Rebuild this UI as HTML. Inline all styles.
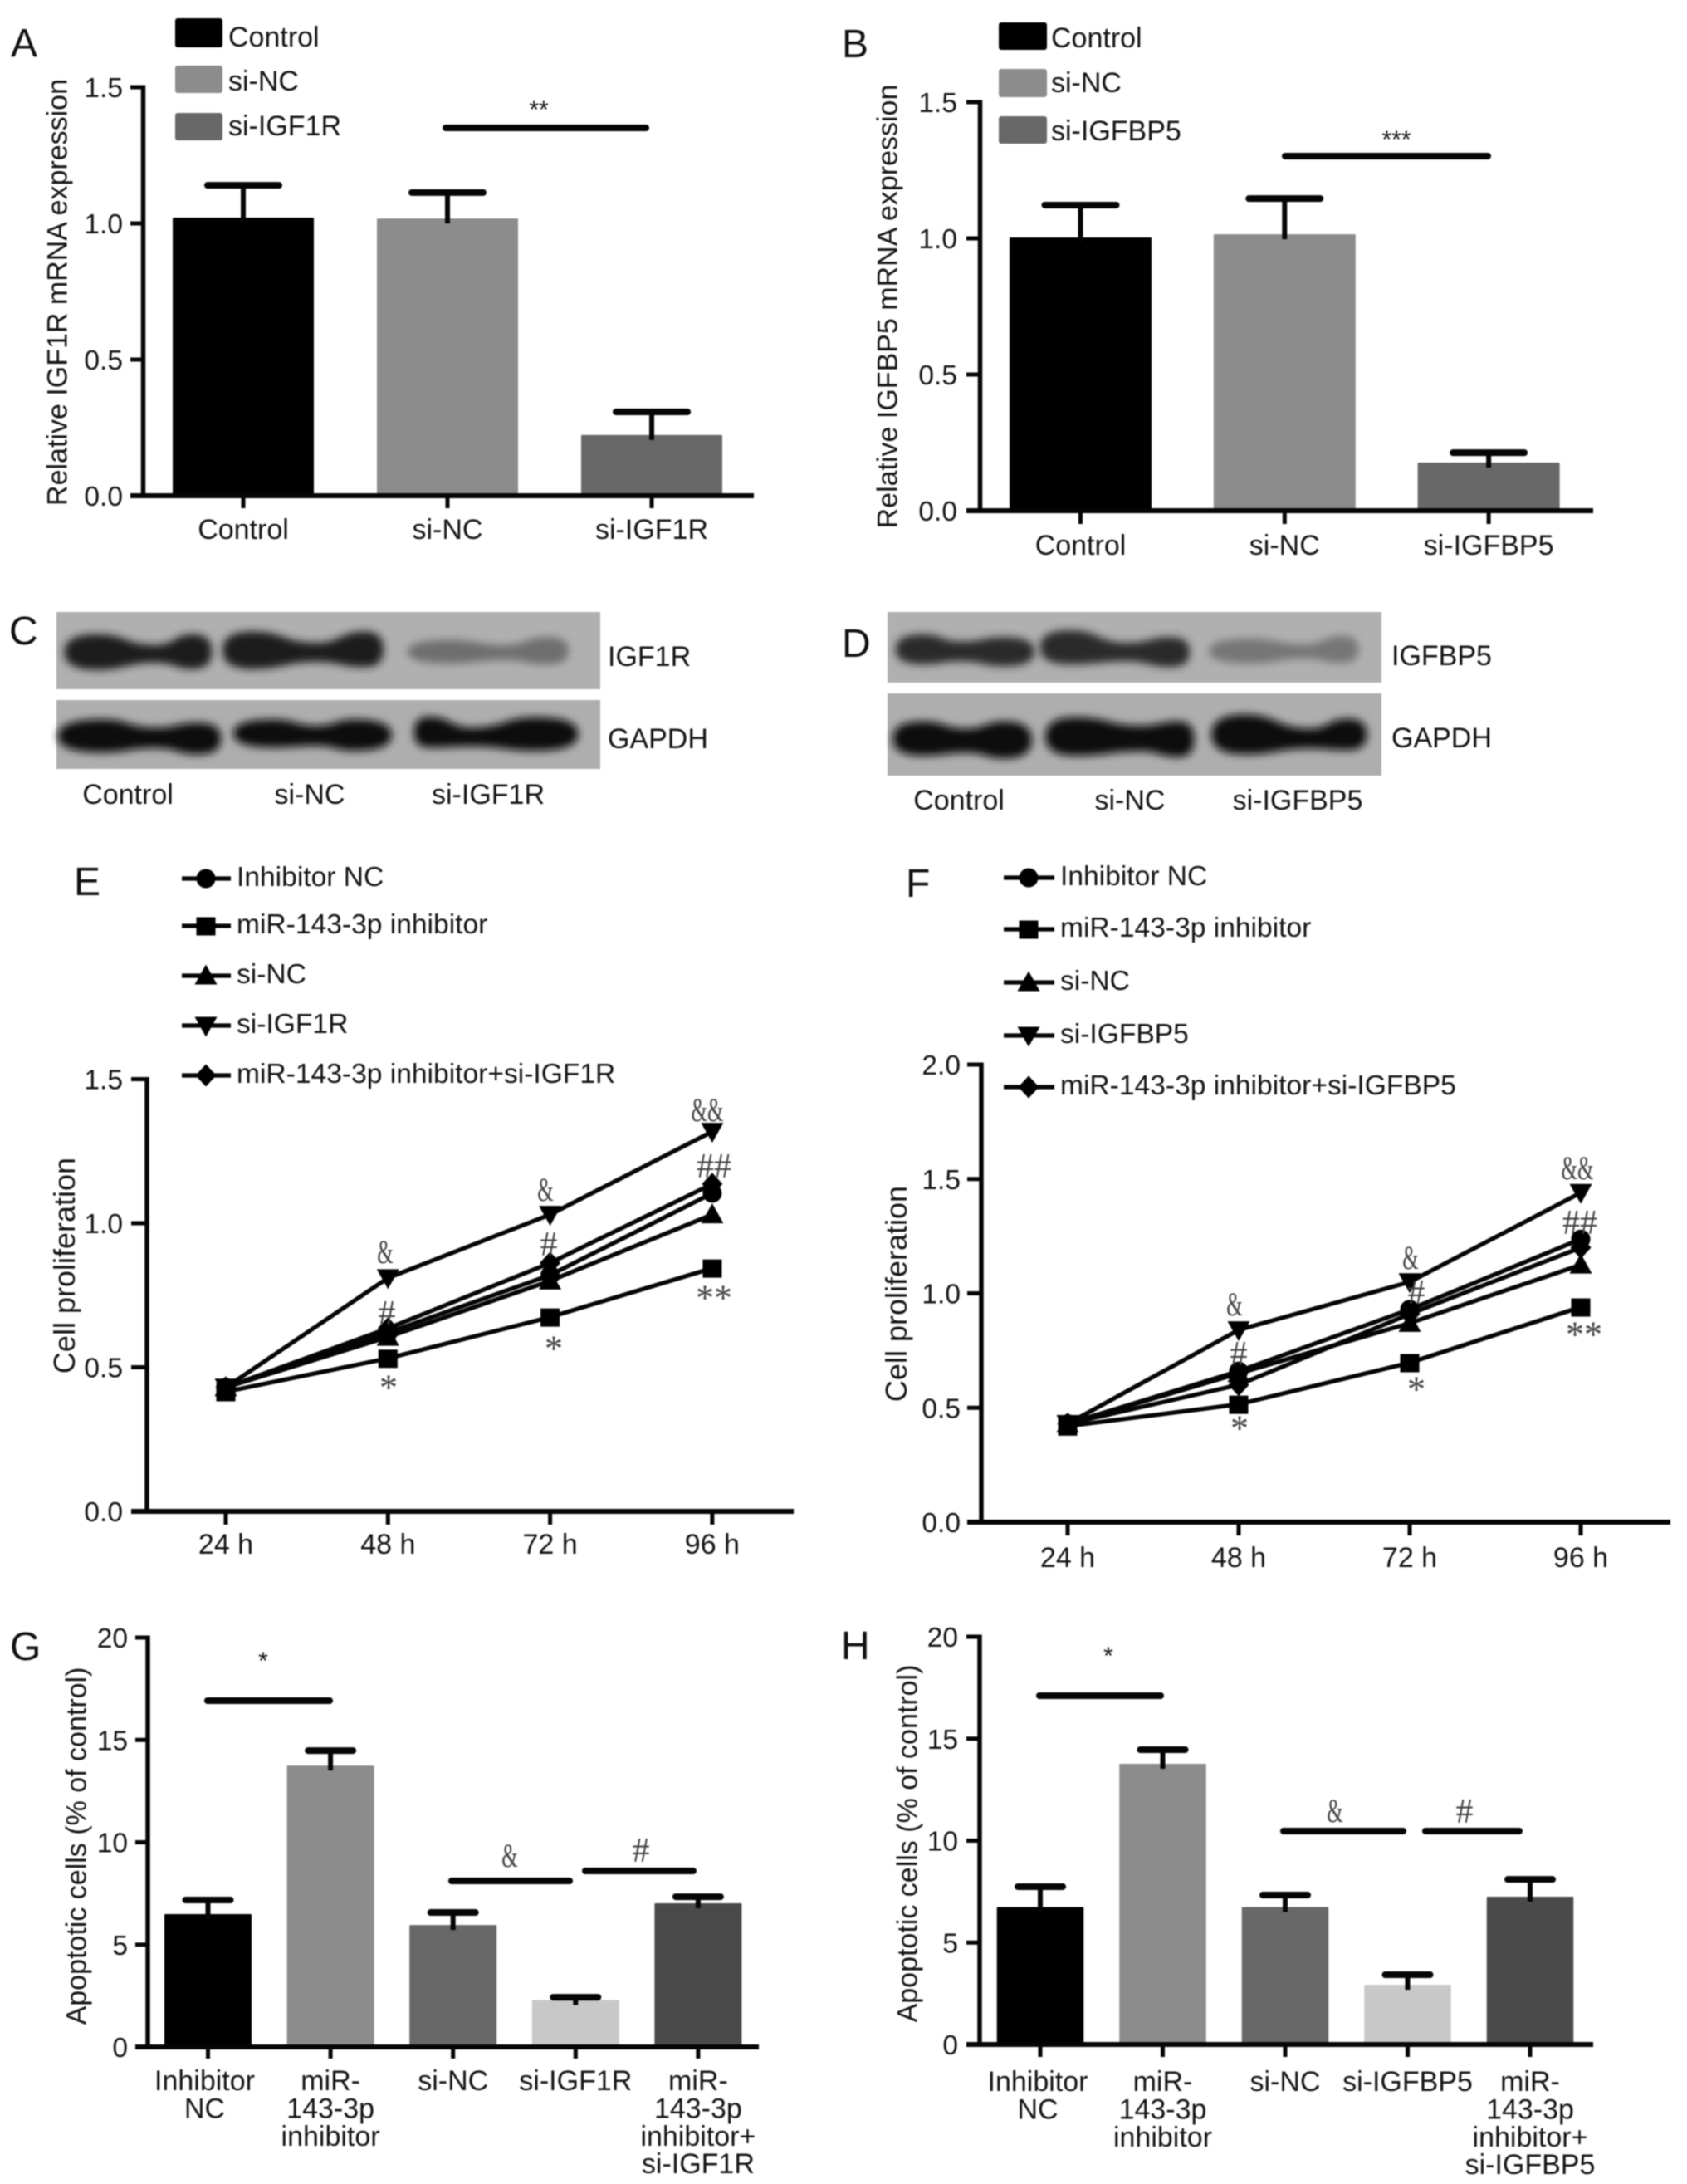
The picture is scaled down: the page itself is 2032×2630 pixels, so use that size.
<!DOCTYPE html>
<html lang="en">
<head>
<meta charset="utf-8">
<title>IGF1R and IGFBP5 knockdown figure</title>
<style>
html,body{margin:0;padding:0;background:#fff;}
#figure{display:block;width:2032px;height:2630px;filter:blur(0.8px);font-family:"Liberation Sans",sans-serif;}
</style>
</head>
<body>
<svg id="figure" xmlns="http://www.w3.org/2000/svg" width="2032" height="2630" viewBox="0 0 2032 2630">
<defs>
<filter id="bandBlur" x="-20%" y="-40%" width="140%" height="180%"><feGaussianBlur stdDeviation="5"/></filter>
</defs>
<rect x="0" y="0" width="2032" height="2630" fill="#ffffff"/>
</svg>
<script>
/* ---------- Panel A data ---------- */
const panelACategories = ['Control', 'si-NC', 'si-IGF1R'];
const panelAValues = [1.021, 1.018, 0.223];
const panelAErrorTops = [1.14, 1.113, 0.308];
const panelAYTicks = [0, 0.5, 1.0, 1.5];
const panelAYTickLabels = ['0.0', '0.5', '1.0', '1.5'];
/* ---------- Panel B data ---------- */
const panelBCategories = ['Control', 'si-NC', 'si-IGFBP5'];
const panelBValues = [1.003, 1.015, 0.177];
const panelBErrorTops = [1.122, 1.146, 0.213];
const panelBYTicks = [0, 0.5, 1.0, 1.5];
const panelBYTickLabels = ['0.0', '0.5', '1.0', '1.5'];
/* ---------- Panel E data ---------- */
const panelETimes = ['24 h', '48 h', '72 h', '96 h'];
const panelEYTicks = [0, 0.5, 1.0, 1.5];
const panelEYTickLabels = ['0.0', '0.5', '1.0', '1.5'];
const panelEInhibitorNC = [0.43, 0.62, 0.82, 1.104];
const panelEInhibitor = [0.415, 0.531, 0.674, 0.844];
const panelESiNC = [0.43, 0.605, 0.80, 1.03];
const panelESiIGF1R = [0.43, 0.81, 1.03, 1.318];
const panelECombo = [0.43, 0.635, 0.862, 1.136];
/* ---------- Panel F data ---------- */
const panelFTimes = ['24 h', '48 h', '72 h', '96 h'];
const panelFYTicks = [0, 0.5, 1.0, 1.5, 2.0];
const panelFYTickLabels = ['0.0', '0.5', '1.0', '1.5', '2.0'];
const panelFInhibitorNC = [0.43, 0.66, 0.93, 1.237];
const panelFInhibitor = [0.42, 0.515, 0.697, 0.94];
const panelFSiNC = [0.43, 0.65, 0.87, 1.125];
const panelFSiIGFBP5 = [0.43, 0.84, 1.05, 1.44];
const panelFCombo = [0.43, 0.60, 0.91, 1.20];
/* ---------- Panel G data ---------- */
const panelGCategories = [['Inhibitor', 'NC'], ['miR-', '143-3p', 'inhibitor'], ['si-NC'], ['si-IGF1R'], ['miR-', '143-3p', 'inhibitor+', 'si-IGF1R']];
const panelGValues = [6.49, 13.75, 5.96, 2.29, 7.02];
const panelGErrorTops = [7.18, 14.48, 6.57, 2.43, 7.34];
const panelGYTicks = [0, 5, 10, 15, 20];
const panelGYTickLabels = ['0', '5', '10', '15', '20'];
/* ---------- Panel H data ---------- */
const panelHCategories = [['Inhibitor', 'NC'], ['miR-', '143-3p', 'inhibitor'], ['si-NC'], ['si-IGFBP5'], ['miR-', '143-3p', 'inhibitor+', 'si-IGFBP5']];
const panelHValues = [6.74, 13.77, 6.74, 2.93, 7.25];
const panelHErrorTops = [7.74, 14.46, 7.33, 3.42, 8.1];
const panelHYTicks = [0, 5, 10, 15, 20];
const panelHYTickLabels = ['0', '5', '10', '15', '20'];

const NS = 'http://www.w3.org/2000/svg';
const root = document.getElementById('figure');
const INK = '#141414';

function add(parent, tag, name, attrs, content) {
  const el = document.createElementNS(NS, tag);
  
  
  Object.keys(attrs || {}).forEach(function (k) { el.setAttribute(k, attrs[k]); });
  if (content !== undefined) el.textContent = content;
  parent.appendChild(el);
  return el;
}
function label(parent, name, str, x, cy, size, anchor) {
  return add(parent, 'text', name, {x: x, y: cy + 0.36 * size, 'font-size': size, 'text-anchor': anchor || 'middle', fill: INK}, str);
}
function vLabel(parent, name, str, x, cy, size) {
  return add(parent, 'text', name, {transform: 'translate(' + x + ',' + cy + ') rotate(-90)', y: 0.36 * size, 'font-size': size, 'text-anchor': 'middle', fill: INK}, str);
}
function letter(name, str, x, baseline) {
  return add(root, 'text', name, {x: x, y: baseline, 'font-size': 48, fill: '#111'}, str);
}
function line(parent, name, x1, y1, x2, y2, w, cap) {
  return add(parent, 'line', name, {x1: x1, y1: y1, x2: x2, y2: y2, stroke: '#050505', 'stroke-width': w, 'stroke-linecap': cap || 'butt'});
}
function linearY(zero, top, max) {
  return function (v) { return zero - (v / max) * (zero - top); };
}
function yAxis(parent, o, ticks, labels, sy) {
  line(parent, 'y-axis', o.axisX, sy(ticks[ticks.length - 1]) - 2.5, o.axisX, o.zero + 2, 5.5);
  ticks.forEach(function (t, i) {
    line(parent, 'y-tick', o.left, sy(t), o.axisX, sy(t), 5);
    label(parent, 'y-tick-label', labels[i], o.labelRight, sy(t), 33.5, 'end');
  });
  line(parent, 'x-axis', o.left, o.zero, o.right, o.zero, 6);
}
function sigBar(parent, name, x1, x2, y) {
  line(parent, name, x1, y, x2, y, 8, 'round');
}
function annot(parent, name, str, x, cy) {
  const ch = str.charAt(0);
  const star = ch === '*';
  const size = star ? 44 : (ch === '#' ? 42 : 40);
  const base = star ? cy + 0.47 * size : cy + 0.33 * size;
  const attrs = {x: x, y: base, 'font-size': size, 'text-anchor': 'middle', fill: '#444', 'font-family': '"Liberation Serif",serif'};
  if (ch === '&') {
    attrs.textLength = 19.5 * str.length;
    attrs.lengthAdjust = 'spacingAndGlyphs';
  }
  add(parent, 'text', name, attrs, str);
}
function smallStar(parent, name, str, x, cy) {
  add(parent, 'text', name, {x: x, y: cy + 0.56 * 30, 'font-size': 30, 'text-anchor': 'middle', fill: '#111'}, str);
}
function swatches(parent, entries, x, w, textX) {
  entries.forEach(function (e) {
    add(parent, 'rect', 'legend-swatch', {x: x, y: e.y0, width: w, height: e.y1 - e.y0, rx: 3, fill: e.fill});
    label(parent, 'legend-label', e.text, textX, e.cy, 34, 'start');
  });
}
function barChart(parent, o, categories, values, errorTops, ticks, tickLabels, fills) {
  const sy = linearY(o.zero, o.top, o.max);
  const bx = function (i) { return o.first + i * o.step; };
  values.forEach(function (v, i) {
    add(parent, 'rect', 'bar', {x: bx(i) - o.barW / 2, y: sy(v), width: o.barW, height: o.zero - sy(v), fill: fills[i], rx: 1});
  });
  values.forEach(function (v, i) {
    line(parent, 'error-stem', bx(i), sy(v) + 6, bx(i), sy(errorTops[i]), 6);
    line(parent, 'error-cap', bx(i) - o.capHalf, sy(errorTops[i]), bx(i) + o.capHalf, sy(errorTops[i]), 8, 'round');
    line(parent, 'x-tick', bx(i), o.zero, bx(i), o.tickEnd, 5);
  });
  yAxis(parent, o, ticks, tickLabels, sy);
  categories.forEach(function (c, i) {
    const lines = Array.isArray(c) ? c : [c];
    lines.forEach(function (t, j) {
      label(parent, 'x-tick-label', t, bx(i) + (o.firstLabelDx && i === 0 ? o.firstLabelDx : 0), o.labelY + j * 33.3, 34);
    });
  });
}
function marker(parent, type, x, y) {
  const s = 11.5;
  if (type === 'circle') add(parent, 'circle', 'marker-circle', {cx: x, cy: y, r: s, fill: '#000'});
  if (type === 'square') add(parent, 'rect', 'marker-square', {x: x - s, y: y - s + 1, width: 2 * s, height: 2 * s - 1, fill: '#000'});
  if (type === 'up') add(parent, 'polygon', 'marker-triangle-up', {points: [x, y - s - 2, x + s + 2, y + s - 1, x - s - 2, y + s - 1].join(' '), fill: '#000'});
  if (type === 'down') add(parent, 'polygon', 'marker-triangle-down', {points: [x - s - 2, y - s + 1, x + s + 2, y - s + 1, x, y + s + 2].join(' '), fill: '#000'});
  if (type === 'diamond') add(parent, 'polygon', 'marker-diamond', {points: [x, y - s - 2, x + s + 1, y, x, y + s + 2, x - s - 1, y].join(' '), fill: '#000'});
}
function lineChart(parent, o, times, series, ticks, tickLabels) {
  const sy = linearY(o.zero, o.top, o.max);
  const sx = function (i) { return o.first + i * o.step; };
  yAxis(parent, o, ticks, tickLabels, sy);
  times.forEach(function (t, i) {
    line(parent, 'x-tick', sx(i), o.zero, sx(i), o.tickEnd, 5);
    label(parent, 'x-tick-label', t, sx(i), o.labelY, 34);
  });
  series.forEach(function (s) {
    const g = add(parent, 'g', s.name, {});
    add(g, 'polyline', 'series-line', {points: s.values.map(function (v, i) { return sx(i) + ',' + sy(v); }).join(' '), fill: 'none', stroke: '#050505', 'stroke-width': 5.2});
    s.values.forEach(function (v, i) { marker(g, s.type, sx(i), sy(v)); });
  });
}
function lineLegend(parent, entries, x1, x2, mx, textX) {
  entries.forEach(function (e) {
    line(parent, 'legend-line', x1, e.cy + 1, x2, e.cy + 1, 5.2);
    marker(parent, e.type, mx, e.cy + 1);
    label(parent, 'legend-label', e.text, textX, e.cy - 2, 33.6, 'start');
  });
}
function band(parent, ox, sx, p) {
  const X = function (z) { return ox + z / sx; };
  const Y = function (z) { return 700 + z / 3.05; };
  const x0 = X(p[0]), lx = X(p[1]), wx = X(p[2]), rx = X(p[3]), x1 = X(p[4]);
  const tl = Y(p[5] - 10), bl = Y(p[6] + 10), wt = Y(p[7] - 14), wb = Y(p[8] + 14), tr = Y(p[9] - 10), br = Y(p[10] + 10);
  const ml = (lx + wx) / 2, mr = (wx + rx) / 2;
  const d = 'M' + x0 + ',' + (tl + bl) / 2 +
    ' Q' + x0 + ',' + tl + ' ' + lx + ',' + tl +
    ' C' + ml + ',' + tl + ' ' + ml + ',' + wt + ' ' + wx + ',' + wt +
    ' C' + mr + ',' + wt + ' ' + mr + ',' + tr + ' ' + rx + ',' + tr +
    ' Q' + x1 + ',' + tr + ' ' + x1 + ',' + (tr + br) / 2 +
    ' Q' + x1 + ',' + br + ' ' + rx + ',' + br +
    ' C' + mr + ',' + br + ' ' + mr + ',' + wb + ' ' + wx + ',' + wb +
    ' C' + ml + ',' + wb + ' ' + ml + ',' + bl + ' ' + lx + ',' + bl +
    ' Q' + x0 + ',' + bl + ' ' + x0 + ',' + (tl + bl) / 2 + ' Z';
  add(parent, 'path', 'blot-band', {d: d, fill: p[11], filter: 'url(#bandBlur)'});
}

/* ---------- Panel A ---------- */
const panelA = add(root, 'g', 'panel-a', {});
letter('panel-letter-a', 'A', 13, 68);
swatches(panelA, [
  {y0: 22, y1: 57, fill: '#000', cy: 44, text: 'Control'},
  {y0: 79, y1: 112, fill: '#8c8c8c', cy: 97, text: 'si-NC'},
  {y0: 136, y1: 169, fill: '#686868', cy: 151, text: 'si-IGF1R'}
], 211, 57, 275);
barChart(panelA, {zero: 597, top: 105, max: 1.5, axisX: 172.5, left: 157, right: 908, labelRight: 148, first: 293, step: 246, barW: 170, capHalf: 43, tickEnd: 612, labelY: 637}, panelACategories, panelAValues, panelAErrorTops, panelAYTicks, panelAYTickLabels, ['#000', '#8c8c8c', '#686868']);
vLabel(panelA, 'y-axis-title', 'Relative IGF1R mRNA expression', 68, 352, 34);
sigBar(panelA, 'significance-bar', 537, 778, 154);
smallStar(panelA, 'significance-marker', '**', 649, 125);

/* ---------- Panel B ---------- */
const panelB = add(root, 'g', 'panel-b', {});
letter('panel-letter-b', 'B', 1014, 69);
swatches(panelB, [
  {y0: 27, y1: 60, fill: '#000', cy: 45, text: 'Control'},
  {y0: 83, y1: 117, fill: '#8c8c8c', cy: 99, text: 'si-NC'},
  {y0: 140, y1: 173, fill: '#686868', cy: 157, text: 'si-IGFBP5'}
], 1203, 58, 1266);
barChart(panelB, {zero: 615, top: 123, max: 1.5, axisX: 1180.5, left: 1164, right: 1919, labelRight: 1153, first: 1301.5, step: 245.8, barW: 171, capHalf: 43, tickEnd: 631, labelY: 656}, panelBCategories, panelBValues, panelBErrorTops, panelBYTicks, panelBYTickLabels, ['#000', '#8c8c8c', '#686868']);
vLabel(panelB, 'y-axis-title', 'Relative IGFBP5 mRNA expression', 1068, 369, 34);
sigBar(panelB, 'significance-bar', 1548, 1792, 188);
smallStar(panelB, 'significance-marker', '***', 1682, 161);

/* ---------- Panel C ---------- */
const panelC = add(root, 'g', 'panel-c-western-blot', {});
letter('panel-letter-c', 'C', 11, 776);
add(panelC, 'rect', 'igf1r-blot-background', {x: 68, y: 737, width: 655, height: 93, fill: '#b0b0b0'});
add(panelC, 'rect', 'gapdh-blot-background', {x: 68, y: 843, width: 655, height: 83, fill: '#aeaeae'});
[
  [120, 180, 290, 360, 395, 205, 315, 248, 285, 205, 312, '#1e1e1e'],
  [415, 470, 590, 680, 715, 195, 312, 240, 282, 195, 305, '#1e1e1e'],
  [760, 840, 940, 1020, 1060, 225, 292, 248, 275, 215, 295, '#6e6e6e'],
  [108, 190, 290, 370, 412, 518, 618, 552, 598, 530, 625, '#0e0e0e'],
  [435, 510, 590, 660, 730, 518, 600, 545, 590, 518, 612, '#0e0e0e'],
  [772, 800, 880, 1000, 1078, 508, 600, 552, 592, 510, 612, '#0e0e0e']
].forEach(function (p) { band(panelC, 0, 1.548, p); });
label(panelC, 'igf1r-label', 'IGF1R', 732, 790, 34, 'start');
label(panelC, 'gapdh-label', 'GAPDH', 732, 889, 34, 'start');
label(panelC, 'lane-label-control', 'Control', 154, 956, 34);
label(panelC, 'lane-label-si-nc', 'si-NC', 373, 956, 34);
label(panelC, 'lane-label-si-igf1r', 'si-IGF1R', 588, 956, 34);

/* ---------- Panel D ---------- */
const panelD = add(root, 'g', 'panel-d-western-blot', {});
letter('panel-letter-d', 'D', 1014, 791);
add(panelD, 'rect', 'igfbp5-blot-background', {x: 1069, y: 737, width: 595, height: 85, fill: '#b0b0b0'});
add(panelD, 'rect', 'gapdh-blot-background', {x: 1069, y: 835, width: 595, height: 99, fill: '#aeaeae'});
[
  [120, 170, 240, 320, 375, 205, 295, 235, 280, 215, 302, '#2a2a2a'],
  [385, 440, 545, 625, 660, 190, 295, 240, 280, 215, 305, '#2a2a2a'],
  [695, 770, 870, 940, 970, 220, 292, 245, 270, 210, 290, '#767676'],
  [115, 170, 250, 320, 370, 525, 630, 555, 615, 525, 640, '#0e0e0e'],
  [395, 450, 570, 640, 668, 510, 630, 545, 610, 525, 635, '#0e0e0e'],
  [700, 760, 880, 950, 985, 500, 625, 555, 600, 515, 610, '#0e0e0e']
].forEach(function (p) { band(panelD, 1000, 1.524, p); });
label(panelD, 'igfbp5-label', 'IGFBP5', 1676, 789, 34, 'start');
label(panelD, 'gapdh-label', 'GAPDH', 1676, 888, 34, 'start');
label(panelD, 'lane-label-control', 'Control', 1155, 963, 34);
label(panelD, 'lane-label-si-nc', 'si-NC', 1361, 963, 34);
label(panelD, 'lane-label-si-igfbp5', 'si-IGFBP5', 1563, 963, 34);

/* ---------- Panel E ---------- */
const panelE = add(root, 'g', 'panel-e', {});
letter('panel-letter-e', 'E', 89, 1078);
lineChart(panelE, {zero: 1820, top: 1299.5, max: 1.5, axisX: 177, left: 158, right: 956, labelRight: 148, first: 272, step: 195.3, tickEnd: 1836, labelY: 1859}, panelETimes, [
  {name: 'series-si-igf1r', type: 'down', values: panelESiIGF1R},
  {name: 'series-si-nc', type: 'up', values: panelESiNC},
  {name: 'series-inhibitor-nc', type: 'circle', values: panelEInhibitorNC},
  {name: 'series-combination', type: 'diamond', values: panelECombo},
  {name: 'series-mir-143-3p-inhibitor', type: 'square', values: panelEInhibitor}
], panelEYTicks, panelEYTickLabels);
vLabel(panelE, 'y-axis-title', 'Cell proliferation', 77, 1524, 36);
lineLegend(panelE, [
  {type: 'circle', cy: 1057, text: 'Inhibitor NC'},
  {type: 'square', cy: 1114, text: 'miR-143-3p inhibitor'},
  {type: 'up', cy: 1174, text: 'si-NC'},
  {type: 'down', cy: 1234, text: 'si-IGF1R'},
  {type: 'diamond', cy: 1294, text: 'miR-143-3p inhibitor+si-IGF1R'}
], 219, 278, 248, 285);
[['&', 464, 1508], ['&', 657, 1433], ['&&', 852, 1337], ['#', 466, 1581], ['#', 661, 1498], ['##', 860, 1404], ['*', 468, 1665], ['*', 667, 1618], ['**', 860, 1557]].forEach(function (a) {
  annot(panelE, 'significance-marker', a[0], a[1], a[2]);
});

/* ---------- Panel F ---------- */
const panelF = add(root, 'g', 'panel-f', {});
letter('panel-letter-f', 'F', 1091, 1080);
lineChart(panelF, {zero: 1833, top: 1282, max: 2.0, axisX: 1182, left: 1165, right: 2012, labelRight: 1157, first: 1286, step: 206, tickEnd: 1849, labelY: 1875}, panelFTimes, [
  {name: 'series-si-igfbp5', type: 'down', values: panelFSiIGFBP5},
  {name: 'series-si-nc', type: 'up', values: panelFSiNC},
  {name: 'series-inhibitor-nc', type: 'circle', values: panelFInhibitorNC},
  {name: 'series-combination', type: 'diamond', values: panelFCombo},
  {name: 'series-mir-143-3p-inhibitor', type: 'square', values: panelFInhibitor}
], panelFYTicks, panelFYTickLabels);
vLabel(panelF, 'y-axis-title', 'Cell proliferation', 1079, 1558, 36);
lineLegend(panelF, [
  {type: 'circle', cy: 1056, text: 'Inhibitor NC'},
  {type: 'square', cy: 1118, text: 'miR-143-3p inhibitor'},
  {type: 'up', cy: 1182, text: 'si-NC'},
  {type: 'down', cy: 1246, text: 'si-IGFBP5'},
  {type: 'diamond', cy: 1308, text: 'miR-143-3p inhibitor+si-IGFBP5'}
], 1209, 1270, 1239, 1277);
[['&', 1487, 1571], ['&', 1699, 1515], ['&&', 1900, 1407], ['#', 1492, 1630], ['#', 1706, 1556], ['##', 1903, 1472], ['*', 1493, 1714], ['*', 1706, 1667], ['**', 1908, 1601]].forEach(function (a) {
  annot(panelF, 'significance-marker', a[0], a[1], a[2]);
});

/* ---------- Panel G ---------- */
const panelG = add(root, 'g', 'panel-g', {});
letter('panel-letter-g', 'G', 12, 1999);
barChart(panelG, {zero: 2465, top: 1972, max: 20, axisX: 178, left: 163, right: 914, labelRight: 154, first: 250.5, step: 147.6, barW: 105, capHalf: 27, tickEnd: 2479, labelY: 2505, firstLabelDx: -4}, panelGCategories, panelGValues, panelGErrorTops, panelGYTicks, panelGYTickLabels, ['#000', '#8c8c8c', '#686868', '#c8c8c8', '#4a4a4a']);
vLabel(panelG, 'y-axis-title', 'Apoptotic cells (% of control)', 91, 2223, 34);
sigBar(panelG, 'significance-bar-inhibitor', 250, 397, 2048);
sigBar(panelG, 'significance-bar-si-nc', 544, 686, 2265);
sigBar(panelG, 'significance-bar-combination', 705, 835, 2253);
smallStar(panelG, 'significance-marker', '*', 317, 1993);
annot(panelG, 'significance-marker', '&', 614, 2235);
annot(panelG, 'significance-marker', '#', 772, 2228);

/* ---------- Panel H ---------- */
const panelH = add(root, 'g', 'panel-h', {});
letter('panel-letter-h', 'H', 1013, 1998);
barChart(panelH, {zero: 2462, top: 1971, max: 20, axisX: 1180, left: 1164, right: 1919, labelRight: 1154, first: 1253, step: 147.5, barW: 104.5, capHalf: 27, tickEnd: 2477, labelY: 2506, firstLabelDx: -3}, panelHCategories, panelHValues, panelHErrorTops, panelHYTicks, panelHYTickLabels, ['#000', '#8c8c8c', '#686868', '#c8c8c8', '#4a4a4a']);
vLabel(panelH, 'y-axis-title', 'Apoptotic cells (% of control)', 1092, 2220, 34);
sigBar(panelH, 'significance-bar-inhibitor', 1252, 1398, 2042);
sigBar(panelH, 'significance-bar-si-nc', 1546, 1690, 2205);
sigBar(panelH, 'significance-bar-combination', 1717, 1830, 2205);
smallStar(panelH, 'significance-marker', '*', 1335, 1987);
annot(panelH, 'significance-marker', '&', 1608, 2181);
annot(panelH, 'significance-marker', '#', 1764, 2181);
</script>
</body>
</html>
